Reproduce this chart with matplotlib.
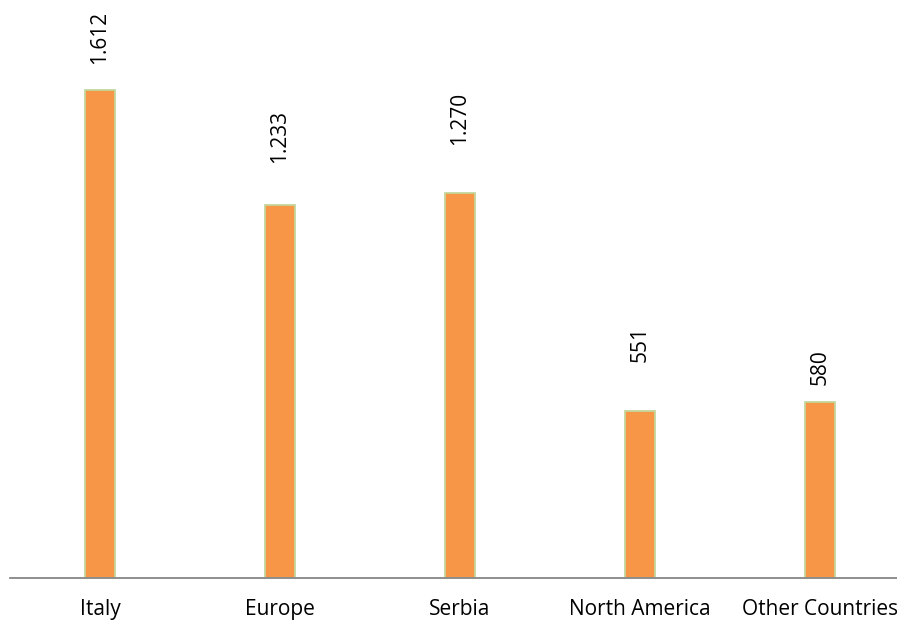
import numpy as np
import matplotlib
matplotlib.use('Agg')
import matplotlib.pyplot as plt

# data
categories = ['Italy', 'Europe', 'Serbia', 'North America', 'Other Countries']
values = [1612, 1233, 1270, 551, 580]
value_labels = ['1.612', '1.233', '1.270', '551', '580']

# gap between bar top and label (pixels), Excel placement is a bit uneven
label_gap_px = [26, 42, 48, 49, 17]

W, H = 897, 623
fig = plt.figure(figsize=(W / 100, H / 100), dpi=100)
fig.patch.set_facecolor('white')

# axes runs off the right edge like in the original
ax_left, ax_right = 10, 910
ax_bottom, ax_top = 578, 33
ax = fig.add_axes([ax_left / W, (H - ax_bottom) / H,
                   (ax_right - ax_left) / W, (ax_bottom - ax_top) / H])

x = np.arange(len(categories))
bars = ax.bar(x, values, width=30 / 180, color='#F79646',
              edgecolor='#C3D69B', linewidth=1.3, zorder=2)

ax.set_xlim(-0.5, len(categories) - 0.5)
ax.set_ylim(0, 1800)
ax.set_yticks([])
ax.set_xticks(x)
ax.set_xticklabels(categories, fontsize=15, family='Open Sans')
ax.tick_params(axis='x', length=0, pad=15)

for s in ['top', 'right', 'left']:
    ax.spines[s].set_visible(False)
ax.spines['bottom'].set_color('#868686')
ax.spines['bottom'].set_linewidth(1.3)

for b, lab, gap in zip(bars, value_labels, label_gap_px):
    ax.annotate(lab, (b.get_x() + b.get_width() / 2, b.get_height()),
                xytext=(0, gap * 0.72), textcoords='offset points',
                rotation=90, ha='center', va='bottom', fontsize=15,
                family='Open Sans', annotation_clip=False)

fig.savefig('out.png', dpi=100)
